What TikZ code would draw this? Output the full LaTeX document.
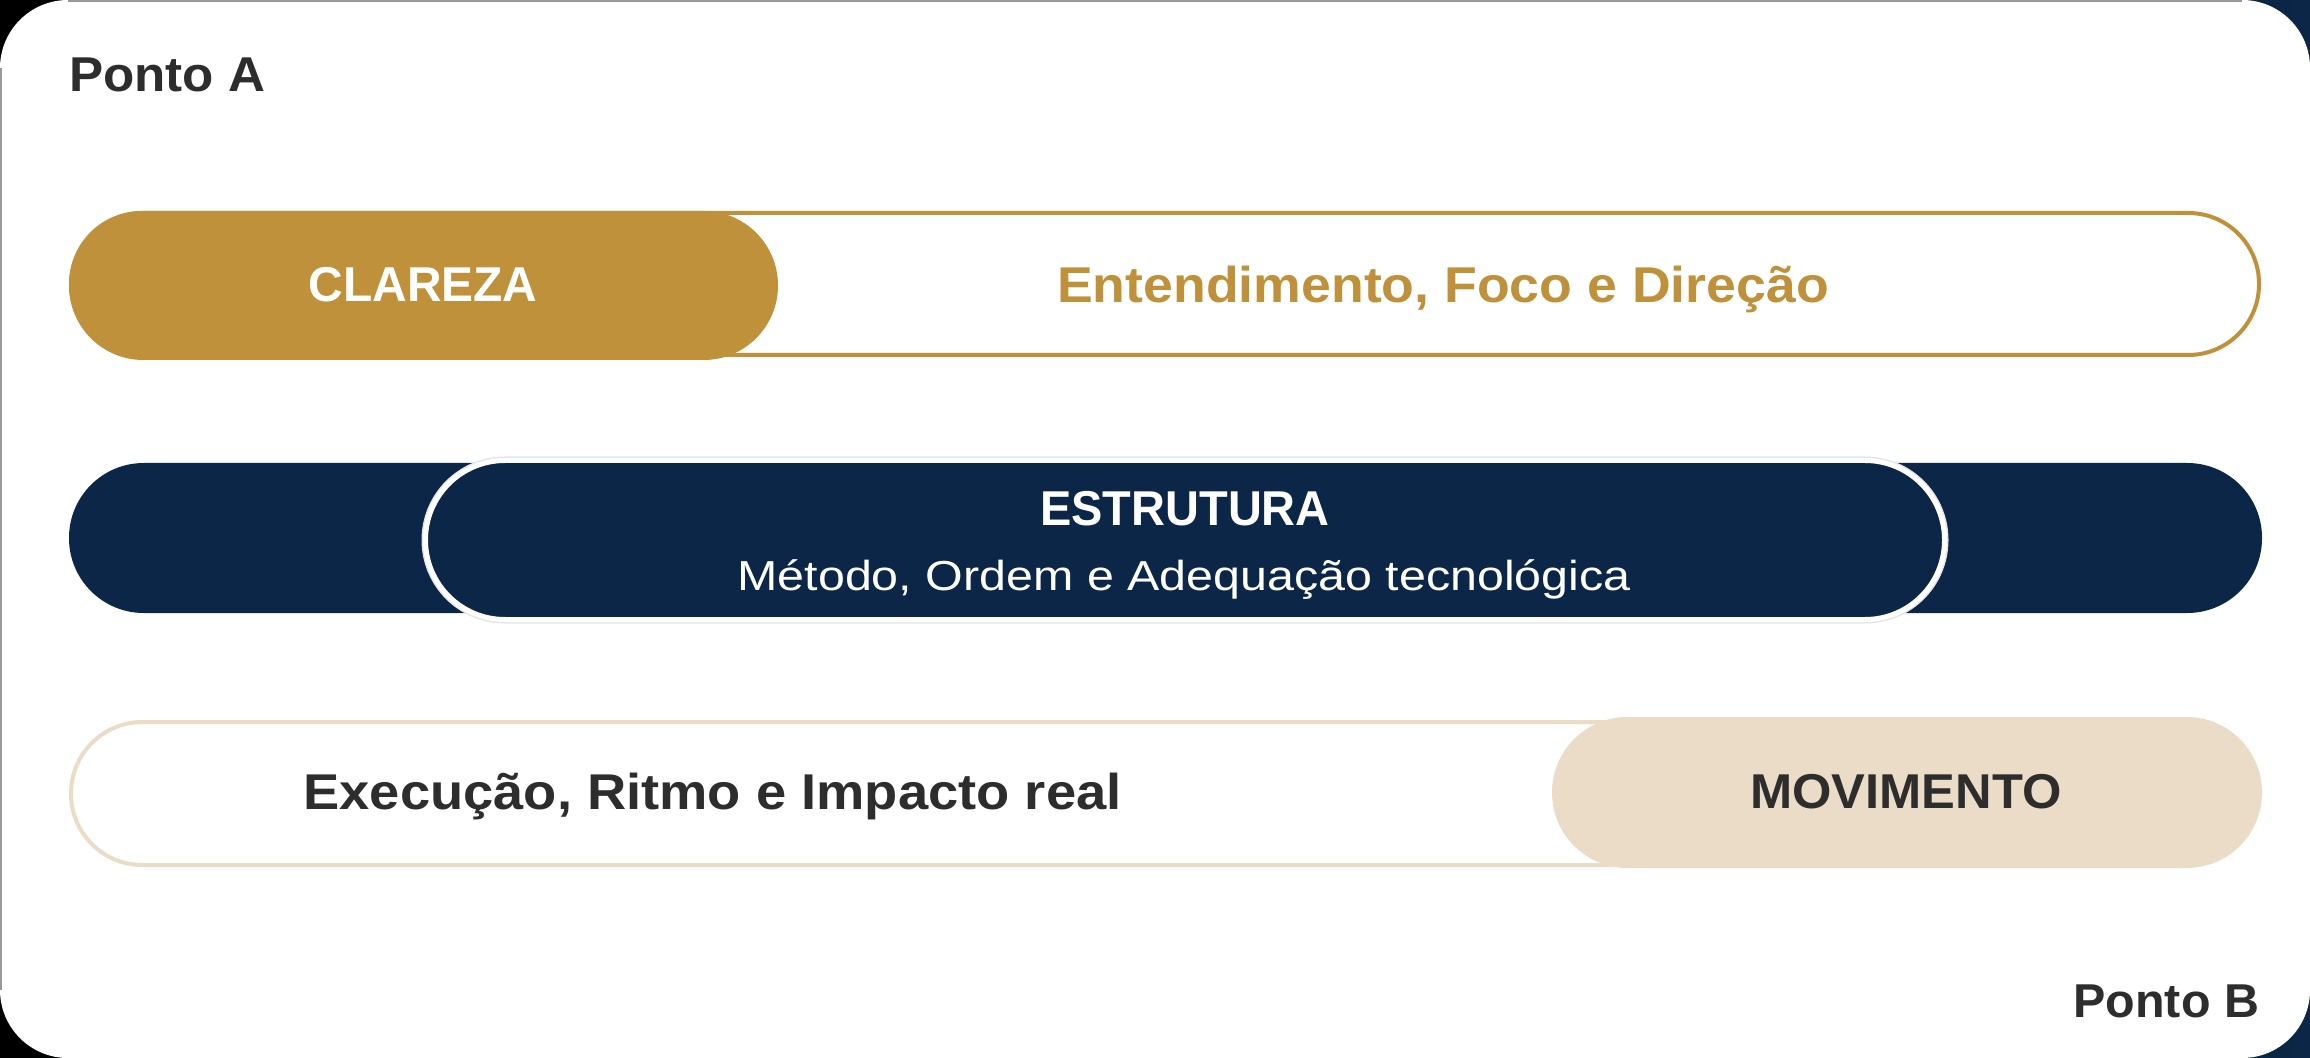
\documentclass[tikz,border=0pt]{standalone}
\usepackage{fontspec}
\setmainfont{Liberation Sans}
\usepackage{graphicx}
\definecolor{gold}{HTML}{BF913B}
\definecolor{navy}{HTML}{0B2646}
\definecolor{beige}{HTML}{EBDCC8}
\definecolor{ink}{HTML}{2D2D2D}
\newcommand\lbl[4]{\fontsize{#1pt}{#1pt}\selectfont#2\scalebox{#3}[1]{#4}}
\tikzset{
  lab/.style={inner sep=0pt, outer sep=0pt, anchor=base},
  ring/.style={line width=2pt},
}
\begin{document}
\begin{tikzpicture}[x=0.5pt,y=-0.5pt]
\useasboundingbox (0,0) rectangle (2310,1058);
% background and card
\shade[left color=black, right color=navy] (0,0) rectangle (2310,1058);
\fill[white] (0,0) [rounded corners=34pt] rectangle (2310,1058);
\draw[black!40, line width=1pt] (68,1) -- (2242,1);
\draw[black!40, line width=1pt] (1,68) -- (1,990);
% row 1
\draw[gold, ring] (71,213) [rounded corners=35.4pt] rectangle (2259,355);
\fill[gold] (69,211) [rounded corners=37.2pt] rectangle (778,360);
% row 2
\fill[navy] (69,463) [rounded corners=37.4pt] rectangle (2262,613);
\draw[black!10, line width=4pt] (425.5,460.5) [rounded corners=39.7pt] rectangle (1944.5,619.5);
\draw[white, fill=navy, line width=2.5pt] (425.5,460.5) [rounded corners=39.7pt] rectangle (1944.5,619.5);
% row 3
\draw[beige, ring] (71,722) [rounded corners=35.7pt] rectangle (2259,865);
\fill[beige] (1552,717) [rounded corners=37.7pt] rectangle (2262,868);
% texts
\node[lab, anchor=base west, text=ink] (pa) at (69,92) {\lbl{24.45}{\bfseries}{1.046}{Ponto A}};
\node[lab, anchor=base east, text=ink] (pb) at (2259,1017) {\lbl{23.75}{\bfseries}{1.02}{Ponto B}};
\node[lab, text=white] (cl) at (423,302) {\lbl{24.45}{\bfseries}{0.98}{CLAREZA}};
\node[lab, text=gold] (en) at (1443,303) {\lbl{25.15}{\bfseries}{1.066}{Entendimento, Foco e Direção}};
\node[lab, text=white] (es) at (1185,525) {\lbl{24.45}{\bfseries}{0.96}{ESTRUTURA}};
\node[lab, text=white] (me) at (1184,590) {\lbl{20.95}{}{1.155}{Método, Ordem e Adequação tecnológica}};
\node[lab, text=ink] (ex) at (712.5,809) {\lbl{25.15}{\bfseries}{1.08}{Execução, Ritmo e Impacto real}};
\node[lab, text=ink] (mo) at (1906,808) {\lbl{24.45}{\bfseries}{1.035}{MOVIMENTO}};
\end{tikzpicture}
\end{document}
